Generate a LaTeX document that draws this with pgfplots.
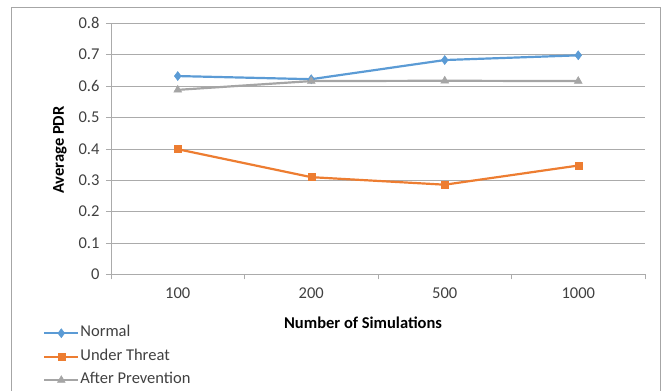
\documentclass[border=0pt]{standalone}
\usepackage{pgfplots}
\pgfplotsset{compat=1.18}
\usepackage{fontspec}
\setmainfont{Carlito}
\definecolor{cNormal}{HTML}{5B9BD5}
\definecolor{cThreat}{HTML}{ED7D31}
\definecolor{cAfter}{HTML}{A5A5A5}
\definecolor{gridc}{HTML}{ABABAB}
\definecolor{framec}{HTML}{A6A6A6}
\definecolor{txt}{HTML}{404040}
\begin{document}
\begin{tikzpicture}[x=1pt,y=1pt]
\useasboundingbox (0,0) rectangle (662,391);
\draw[framec,line width=0.8pt] (11.5,0) -- (11.5,384) -- (660.5,384) -- (660.5,0);
\begin{axis}[
  at={(111pt,116.5pt)}, anchor=south west,
  scale only axis, width=534pt, height=251.2pt,
  xmin=0, xmax=4, ymin=0, ymax=0.8,
  axis lines*=left,
  axis line style={draw=gridc, line width=0.8pt},
  tick align=outside,
  major tick length=5pt,
  tick style={draw=gridc, line width=0.8pt},
  xtick={0,1,2,3,4}, xticklabels={},
  extra x ticks={0.5,1.5,2.5,3.5},
  extra x tick labels={100,200,500,1000},
  extra x tick style={major tick length=0pt, grid=none, xticklabel style={yshift=-10pt}},
  ytick={0,0.1,0.2,0.3,0.4,0.5,0.6,0.7,0.8},
  yticklabels={0,0.1,0.2,0.3,0.4,0.5,0.6,0.7,0.8},
  ymajorgrids,
  grid style={draw=gridc, line width=0.8pt},
  ticklabel style={font=\fontsize{16.5pt}{20pt}\selectfont, text=txt},
  yticklabel style={xshift=-3pt},
  xlabel={\textbf{Number of Simulations}},
  ylabel={\textbf{Average PDR}},
  label style={font=\fontsize{16.5pt}{20pt}\selectfont, text=black},
  xlabel style={at={(axis description cs:0.472,-0.192)}, anchor=center},
  ylabel style={at={(axis description cs:-0.0955,0.4956)}, anchor=center},
  legend style={at={(axis description cs:-0.1273,-0.200)}, anchor=north west,
    draw=none, fill=none, inner sep=0pt, row sep=7pt,
    font=\fontsize{16.5pt}{20pt}\selectfont, text=txt,
    nodes={inner sep=1pt, text height=11pt, text depth=3.5pt}},
  legend cell align=left,
  legend image code/.code={
    \draw[mark repeat=2,mark phase=2,#1] plot coordinates {(0pt,0pt) (17pt,0pt) (34pt,0pt)};},
]
\addplot[color=cNormal, line width=2.2pt, mark=diamond*, mark size=4.5pt, mark options={solid, line width=0.5pt}]
  coordinates {(0.5,0.632) (1.5,0.622) (2.5,0.683) (3.5,0.698)};
\addlegendentry{Normal}
\addplot[color=cThreat, line width=2.2pt, mark=square*, mark size=3.5pt, mark options={solid, line width=0.5pt}]
  coordinates {(0.5,0.399) (1.5,0.310) (2.5,0.286) (3.5,0.347)};
\addlegendentry{Under Threat}
\addplot[color=cAfter, line width=2.2pt, mark=triangle*, mark size=4.5pt, mark options={solid, line width=0.5pt}]
  coordinates {(0.5,0.588) (1.5,0.616) (2.5,0.617) (3.5,0.616)};
\addlegendentry{After Prevention}
\end{axis}
\end{tikzpicture}
\end{document}
